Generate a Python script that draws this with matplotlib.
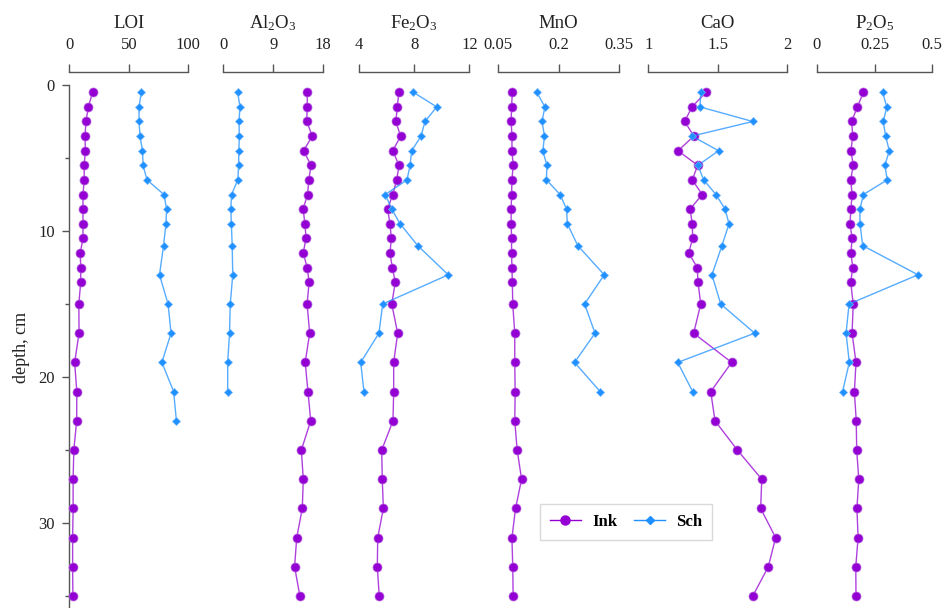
import matplotlib
matplotlib.use("Agg")
import matplotlib.pyplot as plt
from matplotlib.lines import Line2D
from matplotlib.ticker import MultipleLocator

# depth of each sample, cm
depth_ink = [0.5, 1.5, 2.5, 3.5, 4.5, 5.5, 6.5, 7.5, 8.5, 9.5, 10.5, 11.5, 12.5,
             13.5, 15, 17, 19, 21, 23, 25, 27, 29, 31, 33, 35]
depth_sch = [0.5, 1.5, 2.5, 3.5, 4.5, 5.5, 6.5, 7.5, 8.5, 9.5, 11, 13, 15, 17, 19, 21]
depth_sch_loi = [0.5, 1.5, 2.5, 3.5, 4.5, 5.5, 6.5, 7.5, 8.5, 9.5, 11, 13, 15, 17,
                 19, 21, 23]

loi_ink = [19.6, 16.0, 14.0, 13.2, 13.5, 12.5, 12.5, 11.5, 11.5, 11.5, 11.5, 9.2,
           9.6, 9.6, 8.0, 8.2, 4.5, 6.3, 6.2, 3.8, 3.2, 3.2, 2.8, 2.8, 3.0]
loi_sch = [60.5, 58.6, 58.6, 59.4, 61.5, 62.0, 65.3, 79.5, 81.8, 81.2, 79.2, 75.8,
           83.0, 85.5, 77.8, 87.7, 90.0]

al_ink = [15.14, 15.1, 15.02, 16.03, 14.45, 15.8, 15.4, 15.17, 14.38, 14.7, 14.9,
          14.4, 15.1, 15.45, 15.1, 15.55, 14.75, 15.25, 15.74, 14.06, 14.41, 14.23,
          13.23, 12.85, 13.8]
al_sch = [2.63, 3.05, 2.87, 2.93, 2.85, 2.8, 2.66, 1.53, 1.4, 1.5, 1.65, 1.75, 1.3,
          1.17, 0.84, 0.84]

fe_ink = [6.87, 6.77, 6.65, 7.01, 6.43, 6.89, 6.72, 6.43, 6.06, 6.23, 6.33, 6.23,
          6.40, 6.62, 6.36, 6.79, 6.50, 6.50, 6.45, 5.63, 5.67, 5.75, 5.34, 5.31, 5.45]
fe_sch = [7.93, 9.63, 8.78, 8.49, 7.81, 7.69, 7.47, 5.89, 6.36, 6.96, 8.25, 10.47,
          5.70, 5.43, 4.10, 4.34]

mn_ink = [0.085, 0.083, 0.082, 0.084, 0.084, 0.087, 0.084, 0.083, 0.082, 0.082,
          0.083, 0.083, 0.084, 0.085, 0.086, 0.091, 0.091, 0.092, 0.091, 0.097,
          0.108, 0.093, 0.084, 0.086, 0.087]
mn_sch = [0.146, 0.166, 0.159, 0.165, 0.161, 0.171, 0.170, 0.204, 0.220, 0.222,
          0.248, 0.314, 0.265, 0.291, 0.240, 0.304]

ca_ink = [1.416, 1.315, 1.262, 1.329, 1.214, 1.356, 1.317, 1.389, 1.301, 1.317,
          1.320, 1.291, 1.353, 1.358, 1.378, 1.327, 1.601, 1.450, 1.481, 1.642,
          1.818, 1.810, 1.918, 1.865, 1.753]
ca_sch = [1.378, 1.373, 1.753, 1.315, 1.507, 1.358, 1.399, 1.488, 1.553, 1.582,
          1.531, 1.459, 1.522, 1.767, 1.212, 1.320]

p_ink = [0.202, 0.176, 0.151, 0.156, 0.148, 0.158, 0.147, 0.153, 0.148, 0.144,
         0.153, 0.148, 0.156, 0.147, 0.158, 0.153, 0.170, 0.163, 0.171, 0.173,
         0.182, 0.174, 0.179, 0.169, 0.170]
p_sch = [0.285, 0.303, 0.288, 0.298, 0.314, 0.295, 0.305, 0.202, 0.187, 0.187,
         0.199, 0.438, 0.140, 0.127, 0.141, 0.112]

titles = ["LOI", "Al$_2$O$_3$", "Fe$_2$O$_3$", "MnO", "CaO", "P$_2$O$_5$"]
x_ticks = [[0, 50, 100], [0, 9, 18], [4, 8, 12], [0.05, 0.2, 0.35], [1, 1.5, 2],
           [0, 0.25, 0.5]]
x_labels = [["0", "50", "100"], ["0", "9", "18"], ["4", "8", "12"],
            ["0.05", "0.2", "0.35"], ["1", "1.5", "2"], ["0", "0.25", "0.5"]]
ink_sets = [loi_ink, al_ink, fe_ink, mn_ink, ca_ink, p_ink]
sch_sets = [loi_sch, al_sch, fe_sch, mn_sch, ca_sch, p_sch]
sch_depths = [depth_sch_loi] + [depth_sch] * 5

# panel extents in pixels (left, right)
panel_px = [(69.3, 188.3), (223, 323.3), (359.3, 469.3), (498.3, 618.7),
            (648.3, 787), (816.7, 932.3)]

W, H = 949, 608
TOP = 72
YLIM = (35.82, -0.89)

INK = "#9400D3"
SCH = "#1E90FF"
SPINE = "#555555"

plt.rcParams["font.family"] = ["Liberation Serif", "DejaVu Serif"]
plt.rcParams["mathtext.fontset"] = "custom"
plt.rcParams["mathtext.rm"] = "Liberation Serif"
plt.rcParams["mathtext.it"] = "Liberation Serif:italic"

fig = plt.figure(figsize=(W / 100, H / 100), dpi=100)
ax_h = (H - TOP) / H

# depth axis
host = fig.add_axes([68.8 / W, 0, 0.01, ax_h])
host.set_ylim(*YLIM)
for s in ["top", "right", "bottom"]:
    host.spines[s].set_visible(False)
host.spines["left"].set_bounds(0, YLIM[0])
host.spines["left"].set_color(SPINE)
host.spines["left"].set_linewidth(1.0)
host.set_xticks([])
host.yaxis.set_major_locator(MultipleLocator(10))
host.yaxis.set_minor_locator(MultipleLocator(5))
host.tick_params(axis="y", which="major", length=5, width=1, color=SPINE,
                 labelsize=12, pad=5, labelcolor="#222222")
host.tick_params(axis="y", which="minor", length=3, width=1, color=SPINE)
host.patch.set_alpha(0)
fig.text(21 / W, 1 - 347 / H, "depth, cm", rotation=90, ha="center", va="center",
         fontsize=13, color="#222222")

for i in range(6):
    x0, x1 = panel_px[i]
    ax = fig.add_axes([x0 / W, 0, (x1 - x0) / W, ax_h])
    ax.patch.set_alpha(0)
    ax.plot(ink_sets[i], depth_ink, color=INK, lw=1, alpha=0.75, zorder=2,
            clip_on=False)
    ax.plot(ink_sets[i], depth_ink, ls="none", marker="o", ms=6.5, color=INK,
            mec="#b566dd", mew=0.5, zorder=3, clip_on=False)
    ax.plot(sch_sets[i], sch_depths[i], color=SCH, lw=1, alpha=0.75, zorder=4,
            clip_on=False)
    ax.plot(sch_sets[i], sch_depths[i], ls="none", marker="D", ms=4, color=SCH,
            mec="#6ab4ff", mew=0.5, zorder=5, clip_on=False)
    ax.set_xlim(x_ticks[i][0], x_ticks[i][-1])
    ax.set_ylim(*YLIM)
    ax.xaxis.set_ticks_position("top")
    ax.set_xticks(x_ticks[i])
    ax.set_xticklabels(x_labels[i])
    ax.tick_params(axis="x", length=6, width=1, color=SPINE, labelsize=12,
                   pad=8, labelcolor="#222222")
    ax.set_yticks([])
    for s in ["left", "right", "bottom"]:
        ax.spines[s].set_visible(False)
    ax.spines["top"].set_color(SPINE)
    ax.spines["top"].set_linewidth(1.0)
    fig.text((x0 + x1) / 2 / W, 1 - 23 / H, titles[i], ha="center", va="center",
             fontsize=13.5, color="#222222")

handles = [
    Line2D([], [], color=INK, lw=1, marker="o", ms=6.5, label="Ink"),
    Line2D([], [], color=SCH, lw=1, marker="D", ms=4, label="Sch"),
]
fig.legend(handles=handles, loc="center", bbox_to_anchor=(626 / W, 1 - 521.5 / H),
           ncol=2, frameon=True, fancybox=False, edgecolor="#d0d0d0",
           prop={"weight": "bold", "size": 12}, handlelength=1.9,
           handletextpad=0.65, columnspacing=1.0, borderpad=0.6)

fig.savefig("out.png", dpi=100)
